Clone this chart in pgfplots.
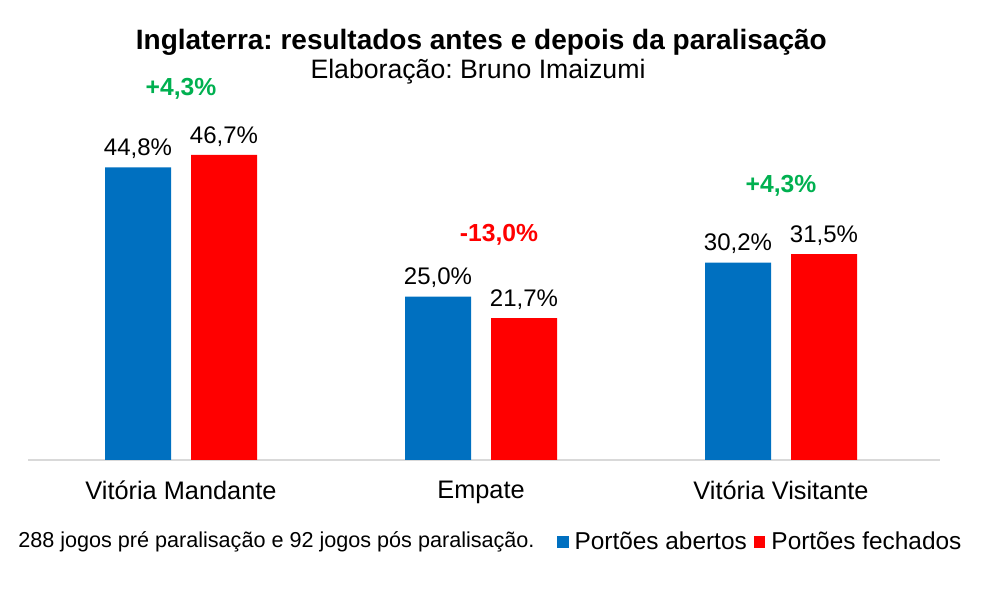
\documentclass[border=0pt]{standalone}
\usepackage{pgfplots}
\pgfplotsset{compat=1.18}
\usepackage{fontspec}
\setmainfont{Liberation Sans}
\definecolor{azul}{HTML}{0070C0}
\definecolor{vermelho}{HTML}{FF0000}
\definecolor{verde}{HTML}{00B050}
\definecolor{eixo}{HTML}{D9D9D9}
\frenchspacing
\begin{document}
\begin{tikzpicture}
\useasboundingbox (0pt,0pt) rectangle (738pt,449.25pt);
\begin{axis}[
    at={(21pt,104.25pt)}, anchor=south west,
    scale only axis,
    width=684pt, height=294pt,
    xmin=-0.51, xmax=2.53,
    ymin=0, ymax=60,
    axis x line=bottom, axis y line=none,
    x axis line style={eixo, line width=1pt, -},
    ybar=15pt, bar width=49.5pt,
    xtick={0,1,2},
    xticklabels={Vitória Mandante, Empate, Vitória Visitante},
    major tick length=0pt,
    xticklabel style={font=\fontsize{19}{22}\selectfont, yshift=-12pt},
    ytick=\empty,
    /pgf/number format/assume math mode=true,
    nodes near coords={\pgfmathprintnumber[fixed,fixed zerofill,precision=1,use comma]{\pgfplotspointmeta}\%},
    every node near coord/.append style={font=\fontsize{18}{21}\selectfont, black, yshift=3pt},
    legend columns=2,
    legend style={at={(0.58,-0.209)}, anchor=west, draw=none, inner sep=0pt,
        font=\fontsize{18.3}{21}\selectfont,
        /tikz/every even column/.append style={column sep=3.5pt}},
    legend image code/.code={\fill[#1] (0pt,-4.25pt) rectangle (8.5pt,4.25pt); \path (11pt,0pt);},
    legend cell align=left,
    clip=false,
]
\addplot[fill=azul, draw=none] coordinates {(0,44.8) (1,25.0) (2,30.2)};
\addplot[fill=vermelho, draw=none] coordinates {(0,46.7) (1,21.7) (2,31.5)};
\legend{Portões abertos, Portões fechados}
\node[font=\bfseries\fontsize{18.5}{21}\selectfont, text=verde] at (axis cs:0.0,56.8) {+4,3\%};
\node[font=\bfseries\fontsize{18.5}{21}\selectfont, text=vermelho] at (axis cs:1.06,34.4) {-13,0\%};
\node[font=\bfseries\fontsize{18.5}{21}\selectfont, text=verde] at (axis cs:2.0,41.9) {+4,3\%};
\end{axis}
\node[font=\bfseries\fontsize{21}{24}\selectfont] at (361pt,417.75pt) {Inglaterra: resultados antes e depois da paralisação};
\node[font=\fontsize{20}{23}\selectfont] at (358.5pt,395.25pt) {Elaboração: Bruno Imaizumi};
\node[font=\fontsize{16.2}{19}\selectfont, anchor=west, inner sep=0pt] at (13.5pt,42.75pt) {288 jogos pré paralisação e 92 jogos pós paralisação.};
\end{tikzpicture}
\end{document}
